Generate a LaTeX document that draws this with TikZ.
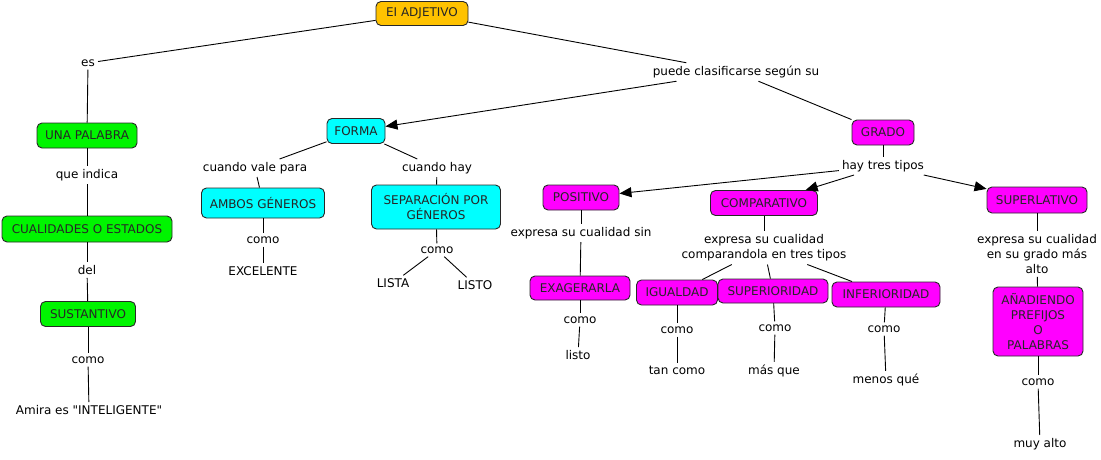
\documentclass[tikz,border=0pt]{standalone}
\usepackage{fontspec}
\setmainfont{DejaVu Sans}[Ligatures=TeXOff]
\usetikzlibrary{arrows.meta}
\definecolor{orng}{RGB}{255,194,0}
\definecolor{grn}{RGB}{0,245,0}
\definecolor{cyn}{RGB}{0,255,255}
\definecolor{mgn}{RGB}{255,0,255}
\definecolor{bord}{RGB}{40,40,40}
\begin{document}
\begin{tikzpicture}[x=1pt,y=-1pt,
  every node/.style={font=\fontsize{12}{15}\selectfont, text=black},
  cbox/.style={draw=bord, line width=0.9pt, rounded corners=5pt, inner sep=2pt, align=center, text=black!85},
  lbl/.style={inner sep=3pt, align=center},
  link/.style={line width=0.9pt, black},
  arr/.style={line width=0.9pt, black, -{Triangle[length=12pt,width=10pt]}}
]
\useasboundingbox[fill=white] (0,0) rectangle (1101,460);

% boxes
\node[cbox, fill=orng, minimum width=92pt, minimum height=24pt] (adj) at (422,13.5) {EI ADJETIVO};
\node[cbox, fill=grn, minimum width=100pt, minimum height=25pt] (una) at (87,135.5) {UNA PALABRA};
\node[cbox, fill=grn, minimum width=170pt, minimum height=26pt] (cual) at (87,229) {CUALIDADES O ESTADOS};
\node[cbox, fill=grn, minimum width=95pt, minimum height=25pt] (sust) at (88,314) {SUSTANTIVO};
\node[cbox, fill=cyn, minimum width=58pt, minimum height=25pt] (forma) at (356,131) {FORMA};
\node[cbox, fill=cyn, minimum width=123pt, minimum height=30pt] (ambos) at (263,203) {AMBOS GÉNEROS};
\node[cbox, fill=cyn, minimum width=129pt, minimum height=44pt] (sep) at (436,207) {SEPARACIÓN POR\\GÉNEROS};
\node[cbox, fill=mgn, minimum width=62pt, minimum height=25pt] (grado) at (883,132.5) {GRADO};
\node[cbox, fill=mgn, minimum width=76pt, minimum height=25pt] (pos) at (581,197.5) {POSITIVO};
\node[cbox, fill=mgn, minimum width=107pt, minimum height=25pt] (comp) at (764,203) {COMPARATIVO};
\node[cbox, fill=mgn, minimum width=100pt, minimum height=26pt] (superl) at (1037,200) {SUPERLATIVO};
\node[cbox, fill=mgn, minimum width=100pt, minimum height=24pt] (exag) at (580,288) {EXAGERARLA};
\node[cbox, fill=mgn, minimum width=81pt, minimum height=25pt] (igual) at (677,292.5) {IGUALDAD};
\node[cbox, fill=mgn, minimum width=110pt, minimum height=24pt] (superi) at (773,291) {SUPERIORIDAD};
\node[cbox, fill=mgn, minimum width=108pt, minimum height=25pt] (inf) at (886,294.5) {INFERIORIDAD};
\node[cbox, fill=mgn, minimum width=90pt, minimum height=69pt] (anad) at (1038,321.5) {AÑADIENDO\\PREFIJOS\\O\\PALABRAS};

% labels
\node[lbl] (es) at (88,63) {es};
\node[lbl] (que) at (87,175) {que indica};
\node[lbl] (del) at (87,270) {del};
\node[lbl] (como1) at (88,360) {como};
\node[lbl] (amira) at (89,410) {Amira es "INTELIGENTE"};
\node[lbl] (puede) at (736,72) {puede clasificarse según su};
\node[lbl] (vale) at (255,168) {cuando vale para};
\node[lbl] (hay) at (437,168) {cuando hay};
\node[lbl] (como2) at (263,240) {como};
\node[lbl] (excel) at (263,271) {EXCELENTE};
\node[lbl] (como3) at (437,250) {como};
\node[lbl] (lista) at (393,283) {LISTA};
\node[lbl] (listo) at (475,285) {LISTO};
\node[lbl] (tres) at (883,166) {hay tres tipos};
\node[lbl] (sin) at (581,233) {expresa su cualidad sin};
\node[lbl] (como4) at (580,320) {como};
\node[lbl] (listo2) at (578,355) {listo};
\node[lbl] (compa) at (764,248) {expresa su cualidad\\comparandola en tres tipos};
\node[lbl] (como5) at (677,330) {como};
\node[lbl] (tan) at (677,370) {tan como};
\node[lbl] (como6) at (775,328) {como};
\node[lbl] (mas) at (774,371) {más que};
\node[lbl] (como7) at (884,329) {como};
\node[lbl] (menos) at (886,380) {menos qué};
\node[lbl] (grmas) at (1037,254) {expresa su cualidad\\en su grado más\\alto};
\node[lbl] (como8) at (1038,382) {como};
\node[lbl] (muy) at (1040,444) {muy alto};

% links
\draw[link] (adj) -- (es);
\draw[link] (es) -- (una);
\draw[link] (una) -- (que);
\draw[link] (que) -- (cual);
\draw[link] (cual) -- (del);
\draw[link] (del) -- (sust);
\draw[link] (sust) -- (como1);
\draw[link] (como1) -- (amira);
\draw[link] (adj) -- (puede);
\draw[arr] (puede) -- (forma);
\draw[link] (puede) -- (grado);
\draw[link] (forma) -- (vale);
\draw[link] (forma) -- (hay);
\draw[link] (vale) -- (ambos);
\draw[link] (hay) -- (sep);
\draw[link] (ambos) -- (como2);
\draw[link] (como2) -- (excel);
\draw[link] (sep) -- (como3);
\draw[link] (como3) -- (lista);
\draw[link] (como3) -- (listo);
\draw[link] (grado) -- (tres);
\draw[arr] (tres) -- (pos);
\draw[arr] (tres) -- (comp);
\draw[arr] (tres) -- (superl);
\draw[link] (pos) -- (sin);
\draw[link] (sin) -- (exag);
\draw[link] (exag) -- (como4);
\draw[link] (como4) -- (listo2);
\draw[link] (comp) -- (compa);
\draw[link] (compa) -- (igual);
\draw[link] (compa) -- (superi);
\draw[link] (compa) -- (inf);
\draw[link] (igual) -- (como5);
\draw[link] (como5) -- (tan);
\draw[link] (superi) -- (como6);
\draw[link] (como6) -- (mas);
\draw[link] (inf) -- (como7);
\draw[link] (como7) -- (menos);
\draw[link] (superl) -- (grmas);
\draw[link] (grmas) -- (anad);
\draw[link] (anad) -- (como8);
\draw[link] (como8) -- (muy);
\end{tikzpicture}
\end{document}
